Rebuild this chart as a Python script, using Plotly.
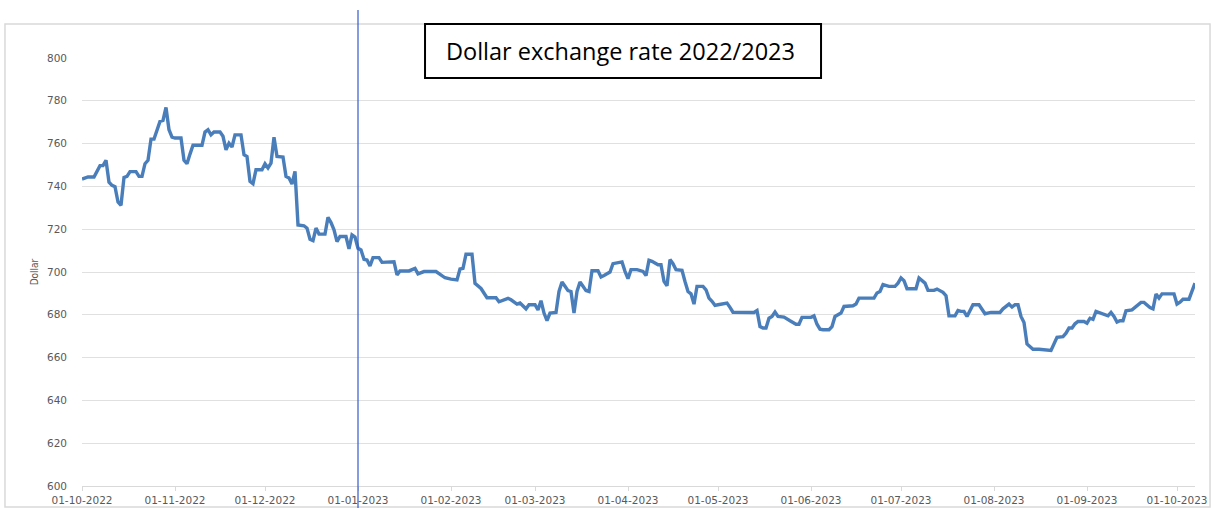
import plotly.graph_objects as go

dates = [
    "2022-10-01","2022-10-03","2022-10-05","2022-10-07","2022-10-08","2022-10-09","2022-10-10","2022-10-11","2022-10-12","2022-10-13",
    "2022-10-14","2022-10-15","2022-10-16","2022-10-17","2022-10-19","2022-10-20","2022-10-21","2022-10-22","2022-10-23","2022-10-24",
    "2022-10-25","2022-10-27","2022-10-28","2022-10-29","2022-10-30","2022-10-31",
    "2022-11-01","2022-11-03","2022-11-04","2022-11-05","2022-11-06","2022-11-07","2022-11-10","2022-11-11","2022-11-12","2022-11-13",
    "2022-11-14","2022-11-16","2022-11-17","2022-11-18","2022-11-19","2022-11-20","2022-11-21","2022-11-23","2022-11-24","2022-11-25",
    "2022-11-26","2022-11-27","2022-11-28","2022-11-30",
    "2022-12-01","2022-12-02","2022-12-03","2022-12-04","2022-12-05","2022-12-07","2022-12-08","2022-12-09","2022-12-10","2022-12-11",
    "2022-12-12","2022-12-14","2022-12-15","2022-12-16","2022-12-17","2022-12-18","2022-12-19","2022-12-21","2022-12-22","2022-12-23",
    "2022-12-24","2022-12-25","2022-12-26","2022-12-28","2022-12-29","2022-12-30","2022-12-31",
    "2023-01-01","2023-01-02","2023-01-03","2023-01-04","2023-01-05","2023-01-06","2023-01-08","2023-01-09","2023-01-11","2023-01-13",
    "2023-01-14","2023-01-15","2023-01-18","2023-01-20","2023-01-21","2023-01-23","2023-01-27","2023-01-30",
    "2023-02-01","2023-02-03","2023-02-04","2023-02-05","2023-02-06","2023-02-08","2023-02-09","2023-02-11","2023-02-13","2023-02-16",
    "2023-02-17","2023-02-19","2023-02-20","2023-02-21","2023-02-23","2023-02-24","2023-02-25","2023-02-26","2023-02-27",
    "2023-03-01","2023-03-02","2023-03-03","2023-03-04","2023-03-05","2023-03-06","2023-03-08","2023-03-09","2023-03-10","2023-03-11",
    "2023-03-12","2023-03-13","2023-03-14","2023-03-15","2023-03-16","2023-03-17","2023-03-18","2023-03-19","2023-03-20","2023-03-22",
    "2023-03-23","2023-03-24","2023-03-26","2023-03-27","2023-03-29","2023-03-30","2023-03-31",
    "2023-04-01","2023-04-02","2023-04-04","2023-04-06","2023-04-07","2023-04-08","2023-04-09","2023-04-11","2023-04-12","2023-04-13",
    "2023-04-14","2023-04-15","2023-04-16","2023-04-17","2023-04-19","2023-04-20","2023-04-21","2023-04-22","2023-04-23","2023-04-24",
    "2023-04-26","2023-04-27","2023-04-28","2023-04-29","2023-04-30",
    "2023-05-01","2023-05-04","2023-05-05","2023-05-06","2023-05-13","2023-05-14","2023-05-15","2023-05-16","2023-05-17","2023-05-18",
    "2023-05-19","2023-05-20","2023-05-21","2023-05-23","2023-05-25","2023-05-27","2023-05-28","2023-05-29",
    "2023-06-01","2023-06-02","2023-06-03","2023-06-04","2023-06-05","2023-06-07","2023-06-08","2023-06-09","2023-06-11","2023-06-12",
    "2023-06-15","2023-06-16","2023-06-17","2023-06-20","2023-06-22","2023-06-23","2023-06-24","2023-06-25","2023-06-27","2023-06-29",
    "2023-06-30",
    "2023-07-01","2023-07-02","2023-07-03","2023-07-06","2023-07-07","2023-07-09","2023-07-10","2023-07-12","2023-07-13","2023-07-15",
    "2023-07-16","2023-07-17","2023-07-19","2023-07-20","2023-07-21","2023-07-22","2023-07-23","2023-07-25","2023-07-27","2023-07-29",
    "2023-07-31",
    "2023-08-03","2023-08-04","2023-08-05","2023-08-06","2023-08-07","2023-08-08","2023-08-09","2023-08-10","2023-08-11","2023-08-12",
    "2023-08-14","2023-08-16","2023-08-20","2023-08-21","2023-08-22","2023-08-24","2023-08-25","2023-08-26","2023-08-27","2023-08-28",
    "2023-08-29","2023-08-31",
    "2023-09-01","2023-09-02","2023-09-03","2023-09-04","2023-09-05","2023-09-06","2023-09-08","2023-09-09","2023-09-10","2023-09-11",
    "2023-09-12","2023-09-13","2023-09-14","2023-09-16","2023-09-17","2023-09-19","2023-09-20","2023-09-22","2023-09-23","2023-09-24",
    "2023-09-25","2023-09-26","2023-09-30",
    "2023-10-01","2023-10-02","2023-10-03","2023-10-05","2023-10-06","2023-10-07",
]

rates = [
    743.4,744.4,744.4,749.7,749.7,752.2,742.0,740.5,739.9,732.7,
    731.2,744.2,744.7,746.9,746.9,744.7,744.7,750.6,752.2,762.1,
    762.1,770.4,770.8,776.9,766.5,763.0,
    762.6,762.6,752.2,750.6,755.1,759.2,759.2,765.4,766.5,764.1,
    765.4,765.4,763.4,757.1,760.2,758.4,764.1,764.1,754.8,754.0,
    742.4,741.3,747.8,747.8,
    750.6,748.6,750.9,763.0,754.0,753.7,744.7,743.9,741.1,747.0,
    722.0,721.6,720.5,715.3,714.7,720.5,717.7,717.7,725.6,723.1,
    719.7,714.2,716.6,716.6,710.8,717.3,716.3,
    711.1,710.3,705.9,705.6,702.8,706.7,706.7,704.5,704.5,704.8,
    698.6,700.5,700.5,701.7,699.1,700.2,700.2,697.3,
    696.7,696.3,701.4,701.7,708.3,708.3,694.7,692.3,688.0,688.0,
    686.1,686.9,687.7,687.0,685.0,685.5,683.9,682.8,684.7,
    684.7,682.3,686.6,680.8,677.3,680.8,681.1,690.9,695.3,693.3,
    691.3,690.9,680.8,690.9,695.3,693.3,691.3,690.9,700.6,700.6,
    697.7,698.4,700.0,703.9,704.2,704.7,700.3,
    696.9,701.1,701.1,700.3,698.3,705.5,705.0,703.4,703.4,695.6,
    693.6,705.8,703.9,701.1,700.8,695.6,690.9,689.8,685.0,693.3,
    693.3,691.7,687.8,686.3,684.4,
    684.7,685.5,683.5,681.2,681.1,682.0,674.5,673.8,673.8,678.4,
    679.2,681.3,679.2,678.9,677.2,675.6,675.6,678.8,
    678.8,679.5,675.6,673.3,673.0,673.0,674.5,679.2,680.8,683.9,
    684.2,685.0,687.8,687.8,687.8,690.2,690.9,694.1,693.3,693.3,
    694.8,
    697.2,695.9,692.2,692.2,697.2,694.8,691.4,691.4,692.0,690.5,
    688.9,679.5,679.5,682.0,681.6,681.6,679.2,684.7,684.7,680.5,
    681.1,
    681.1,682.8,683.9,685.0,683.6,684.7,684.7,679.2,676.4,666.4,
    663.9,663.9,663.3,666.4,669.5,669.8,671.4,673.8,673.8,675.8,
    676.9,676.9,
    676.1,678.4,677.9,681.6,681.1,680.8,679.5,681.1,679.2,676.6,
    677.2,677.2,681.9,682.3,683.6,685.8,685.8,683.4,682.8,689.7,
    687.8,689.8,689.8,
    685.0,685.9,687.3,687.3,690.9,694.8,
]

title_text = "Dollar exchange rate 2022/2023"
y_title = "Dollar"
marker_date = "2023-01-01"
x_range = ["2022-10-01", "2023-10-07"]
y_range = [600, 800]

fig = go.Figure()
fig.add_trace(go.Scatter(
    x=dates, y=rates, mode="lines",
    line=dict(color="#4a7ebb", width=3.4),
    showlegend=False, hoverinfo="x+y",
))

grey = "#595959"
tick_family = "DejaVu Sans, Verdana, sans-serif"
fig.update_layout(
    width=1211, height=508,
    margin=dict(l=82, r=16, t=58, b=22),
    paper_bgcolor="white", plot_bgcolor="white",
    font=dict(family=tick_family, color=grey, size=10),
    xaxis=dict(
        type="date", range=x_range, tick0="2022-10-01", dtick="M1",
        tickformat="%d-%m-%Y", showgrid=False, zeroline=False, automargin=False,
        showline=True, linecolor="#d9d9d9", linewidth=1,
        ticks="outside", ticklen=4, tickcolor="#d9d9d9",
        tickfont=dict(size=10.5, color=grey, family=tick_family), ticklabelstandoff=0,
    ),
    yaxis=dict(
        range=y_range, dtick=20, showgrid=True, gridcolor="#e0e0e0", gridwidth=1,
        zeroline=False, showline=False, ticks="", automargin=False,
        tickfont=dict(size=10.5, color=grey, family=tick_family), ticklabelstandoff=14,
        title=dict(text=y_title, font=dict(size=10, color=grey, family="Liberation Sans Narrow, DejaVu Sans Condensed, sans-serif"), standoff=6),
    ),
)

# outer chart border
fig.add_shape(type="rect", xref="paper", yref="paper",
              x0=-0.0692, x1=1.0135, y0=-0.049, y1=1.0794,
              line=dict(color="#d9d9d9", width=1.5), layer="below")

# vertical marker line
fig.add_shape(type="line", xref="x", yref="paper",
              x0=marker_date, x1=marker_date, y0=-0.06, y1=1.112,
              line=dict(color="#2f5ccc", width=1.2))

# title box
fig.add_shape(type="rect", xref="paper", yref="paper",
              x0=0.3082, x1=0.664, y0=0.9533, y1=1.0794,
              line=dict(color="black", width=2), fillcolor="white")
fig.add_annotation(text=title_text, xref="paper", yref="paper",
                   x=0.4834, y=1.0164, xanchor="center", yanchor="middle",
                   showarrow=False,
                   font=dict(size=23.5, color="black", family="Open Sans, Liberation Sans, sans-serif"))

fig.write_html("out.html", config={"displayModeBar": False},
               post_script="document.body.style.margin='0';document.body.style.overflow='hidden';")
